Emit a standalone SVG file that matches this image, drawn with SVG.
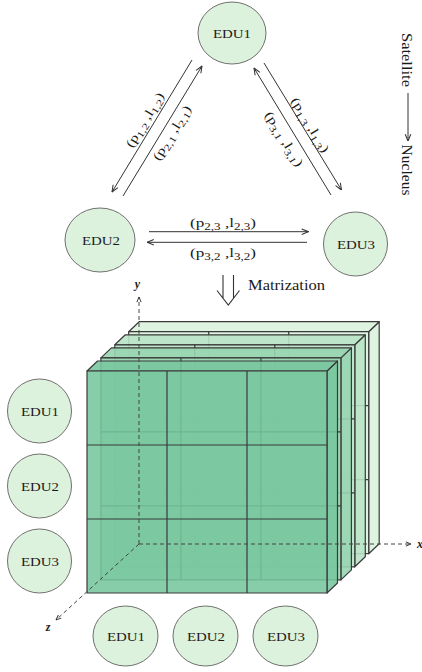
<svg xmlns="http://www.w3.org/2000/svg" width="422" height="672" viewBox="0 0 422 672">
<style>
.node ellipse{fill:#dcf2dc;stroke:#707070;stroke-width:1}
.t{font-family:"Liberation Serif","Times New Roman",serif;fill:#1a1a1a}
.edu{font-size:13px;text-anchor:middle}
.lbl{font-size:12.5px;text-anchor:middle}
.sub{font-size:9.5px}
.conn line{stroke:#333;stroke-width:1;marker-end:url(#ah)}
.face{stroke:#3a3a3a;stroke-width:1.2;stroke-linejoin:round}
.grid{fill:none;stroke:#3a3a3a;stroke-width:1.2}
.axis{stroke:#444;stroke-width:1;stroke-dasharray:4 3;fill:none;marker-end:url(#ah2)}
.ax{font-family:"Liberation Serif","Times New Roman",serif;font-style:italic;font-weight:bold;font-size:12px;fill:#1a1a1a;text-anchor:middle}
</style>
<defs>
<marker id="ah" viewBox="0 0 10 10" refX="9.5" refY="5" markerWidth="8" markerHeight="8" markerUnits="userSpaceOnUse" orient="auto">
<path d="M1,1.5 L9.5,5 L1,8.5" fill="none" stroke="#333" stroke-width="1.3"/>
</marker>
<marker id="ah2" viewBox="0 0 10 10" refX="9.5" refY="5" markerWidth="6" markerHeight="6" markerUnits="userSpaceOnUse" orient="auto">
<path d="M1,1.5 L9.5,5 L1,8.5" fill="none" stroke="#333" stroke-width="1.6"/>
</marker>
<g id="slab">
<polygon class="face" points="240,0 250.5,-10 250.5,212 240,222"/>
<polygon class="face" points="0,0 10.5,-10 250.5,-10 240,0"/>
<rect class="face" x="0" y="0" width="240" height="222"/>
<path class="grid" d="M80,0V222M160,0V222M0,74H240M0,148H240"/>
</g>
</defs>

<g id="tensor">
<use href="#slab" transform="translate(128.7,331.7)" fill="#dcf2de" fill-opacity="0.9"/>
<use href="#slab" transform="translate(114.8,344.8)" fill="#b8e3c6" fill-opacity="0.9"/>
<use href="#slab" transform="translate(100.9,357.9)" fill="#98d5b1" fill-opacity="0.9"/>
<use href="#slab" transform="translate(87,371)" fill="#76c69e" fill-opacity="0.88"/>
</g>

<g id="axes">
<line class="axis" x1="139" y1="544" x2="139" y2="297"/>
<line class="axis" x1="139" y1="544" x2="411" y2="544"/>
<line class="axis" x1="139" y1="544" x2="56" y2="620"/>
<text class="ax" x="137.5" y="288">y</text>
<text class="ax" x="420" y="548">x</text>
<text class="ax" x="48" y="631">z</text>
</g>

<g id="connectors" class="conn">
<line x1="192" y1="60" x2="112" y2="192"/>
<line x1="123" y1="196" x2="202" y2="66"/>
<line x1="264" y1="63" x2="341.5" y2="190"/>
<line x1="331" y1="195" x2="254" y2="68"/>
<line x1="149" y1="231.7" x2="308.5" y2="231.7"/>
<line x1="307" y1="242.3" x2="147" y2="242.3"/>
<line x1="408" y1="93" x2="408" y2="141"/>
</g>

<g id="edge-labels">
<text class="t lbl" transform="translate(145,120) rotate(-58.7)" y="4" textLength="62" lengthAdjust="spacingAndGlyphs">(p<tspan class="sub" dy="3">1,2</tspan><tspan dy="-3"> ,l</tspan><tspan class="sub" dy="3">1,2</tspan><tspan dy="-3">)</tspan></text>
<text class="t lbl" transform="translate(172,133) rotate(-58.7)" y="4" textLength="62" lengthAdjust="spacingAndGlyphs">(p<tspan class="sub" dy="3">2,1</tspan><tspan dy="-3"> ,l</tspan><tspan class="sub" dy="3">2,1</tspan><tspan dy="-3">)</tspan></text>
<text class="t lbl" transform="translate(310,125) rotate(58.5)" y="4" textLength="62" lengthAdjust="spacingAndGlyphs">(p<tspan class="sub" dy="3">1,3</tspan><tspan dy="-3"> ,l</tspan><tspan class="sub" dy="3">1,3</tspan><tspan dy="-3">)</tspan></text>
<text class="t lbl" transform="translate(284,139) rotate(58.5)" y="4" textLength="62" lengthAdjust="spacingAndGlyphs">(p<tspan class="sub" dy="3">3,1</tspan><tspan dy="-3"> ,l</tspan><tspan class="sub" dy="3">3,1</tspan><tspan dy="-3">)</tspan></text>
<text class="t lbl" x="223" y="226.5" textLength="66" lengthAdjust="spacingAndGlyphs">(p<tspan class="sub" dy="3">2,3</tspan><tspan dy="-3"> ,l</tspan><tspan class="sub" dy="3">2,3</tspan><tspan dy="-3">)</tspan></text>
<text class="t lbl" x="223" y="256.5" textLength="66" lengthAdjust="spacingAndGlyphs">(p<tspan class="sub" dy="3">3,2</tspan><tspan dy="-3"> ,l</tspan><tspan class="sub" dy="3">3,2</tspan><tspan dy="-3">)</tspan></text>
</g>

<g id="satellite-nucleus">
<text class="t" font-size="14" text-anchor="middle" transform="translate(401.5,60) rotate(90)" textLength="54" lengthAdjust="spacingAndGlyphs">Satellite</text>
<text class="t" font-size="14" text-anchor="middle" transform="translate(401.5,170) rotate(90)" textLength="51" lengthAdjust="spacingAndGlyphs">Nucleus</text>
</g>

<g id="matrization">
<path d="M223,275V298M233.5,275V298M217,290.5L228.3,305L239.5,290.5" fill="none" stroke="#333" stroke-width="1.1"/>
<text class="t" font-size="14" x="248" y="290" textLength="77" lengthAdjust="spacingAndGlyphs">Matrization</text>
</g>

<g id="top-edu1" class="node"><ellipse cx="232" cy="33" rx="34" ry="31"/><text class="t edu" x="232" y="37.5" textLength="38" lengthAdjust="spacingAndGlyphs">EDU1</text></g>
<g id="top-edu2" class="node"><ellipse cx="100" cy="240" rx="35" ry="32"/><text class="t edu" x="101" y="244.5" textLength="38" lengthAdjust="spacingAndGlyphs">EDU2</text></g>
<g id="top-edu3" class="node"><ellipse cx="355.5" cy="244" rx="32" ry="32"/><text class="t edu" x="356" y="248.5" textLength="38" lengthAdjust="spacingAndGlyphs">EDU3</text></g>

<g id="row-edu1" class="node"><ellipse cx="39.5" cy="411" rx="32" ry="32"/><text class="t edu" x="40" y="415.5" textLength="38" lengthAdjust="spacingAndGlyphs">EDU1</text></g>
<g id="row-edu2" class="node"><ellipse cx="39.5" cy="486" rx="32" ry="32"/><text class="t edu" x="40" y="490.5" textLength="38" lengthAdjust="spacingAndGlyphs">EDU2</text></g>
<g id="row-edu3" class="node"><ellipse cx="39.5" cy="561" rx="32" ry="32"/><text class="t edu" x="40" y="565.5" textLength="38" lengthAdjust="spacingAndGlyphs">EDU3</text></g>

<g id="col-edu1" class="node"><ellipse cx="125.5" cy="636" rx="32.5" ry="30"/><text class="t edu" x="126" y="640.5" textLength="38" lengthAdjust="spacingAndGlyphs">EDU1</text></g>
<g id="col-edu2" class="node"><ellipse cx="205.5" cy="636" rx="32.5" ry="30"/><text class="t edu" x="206" y="640.5" textLength="38" lengthAdjust="spacingAndGlyphs">EDU2</text></g>
<g id="col-edu3" class="node"><ellipse cx="285.5" cy="636" rx="32.5" ry="30"/><text class="t edu" x="286" y="640.5" textLength="38" lengthAdjust="spacingAndGlyphs">EDU3</text></g>
</svg>
